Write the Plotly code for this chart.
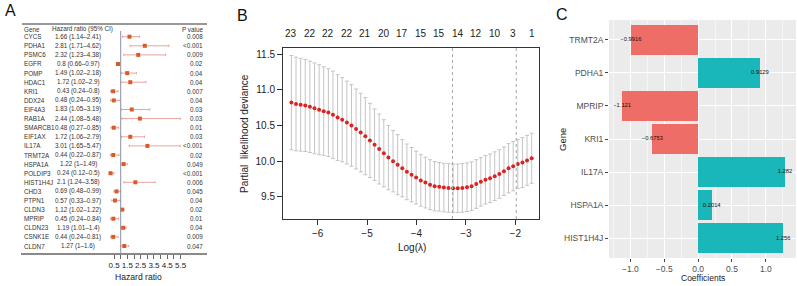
import plotly.graph_objects as go

W, H = 797, 286
FONT = "Liberation Sans, Arial, sans-serif"

# ---------------- Panel A data (forest plot) ----------------
genes_a = ["CYCS", "PDHA1", "PSMC6", "EGFR", "POMP", "HDAC1", "KRI1", "DDX24", "EIF4A3", "RAB1A",
           "SMARCB1", "EIF1AX", "IL17A", "TRMT2A", "HSPA1A", "POLDIP3", "HIST1H4J", "CHD3", "PTPN1",
           "CLDN3", "MPRIP", "CLDN23", "CSNK1E", "CLDN7"]
hr = [1.66, 2.81, 2.32, 0.8, 1.49, 1.72, 0.43, 0.48, 1.83, 2.44, 0.48, 1.72, 3.01, 0.44, 1.22, 0.24,
      2.1, 0.69, 0.57, 1.12, 0.45, 1.19, 0.44, 1.27]
hr_low = [1.14, 1.71, 1.23, 0.66, 1.02, 1.02, 0.24, 0.24, 1.05, 1.08, 0.27, 1.06, 1.65, 0.22, 1.0, 0.12,
          1.24, 0.48, 0.33, 1.02, 0.24, 1.01, 0.24, 1.0]
hr_high = [2.41, 4.62, 4.38, 0.97, 2.18, 2.9, 0.8, 0.95, 3.19, 5.48, 0.85, 2.79, 5.47, 0.87, 1.49, 0.5,
           3.58, 0.99, 0.97, 1.22, 0.84, 1.4, 0.81, 1.6]
hr_text = ["1.66 (1.14–2.41)", "2.81 (1.71–4.62)", "2.32 (1.23–4.38)", "0.8 (0.66–0.97)",
           "1.49 (1.02–2.18)", "1.72 (1.02–2.9)", "0.43 (0.24–0.8)", "0.48 (0.24–0.95)",
           "1.83 (1.05–3.19)", "2.44 (1.08–5.48)", "0.48 (0.27–0.85)", "1.72 (1.06–2.79)",
           "3.01 (1.65–5.47)", "0.44 (0.22–0.87)", "1.22 (1–1.49)", "0.24 (0.12–0.5)",
           "2.1 (1.24–3.58)", "0.69 (0.48–0.99)", "0.57 (0.33–0.97)", "1.12 (1.02–1.22)",
           "0.45 (0.24–0.84)", "1.19 (1.01–1.4)", "0.44 (0.24–0.81)", "1.27 (1–1.6)"]
pvals = ["0.008", "<0.001", "0.009", "0.02", "0.04", "0.04", "0.007", "0.04", "0.03", "0.03", "0.01",
         "0.03", "<0.001", "0.02", "0.049", "<0.001", "0.006", "0.045", "0.04", "0.02", "0.01", "0.04",
         "0.009", "0.047"]
hr_ticks = [0.5, 1, 1.5, 2, 2.5, 3, 3.5, 4, 4.5, 5, 5.5]
hr_ticklabels = ["0.5", "", "1.5", "", "2.5", "", "3.5", "", "4.5", "", "5.5"]

# ---------------- Panel B data (cv.glmnet) ----------------
log_lambda = [-6.530, -6.437, -6.343, -6.250, -6.156, -6.063, -5.969, -5.876, -5.782, -5.689,
              -5.595, -5.502, -5.408, -5.315, -5.221, -5.128, -5.034, -4.941, -4.847, -4.754,
              -4.660, -4.567, -4.473, -4.380, -4.286, -4.193, -4.099, -4.006, -3.912, -3.819,
              -3.725, -3.632, -3.538, -3.445, -3.351, -3.258, -3.164, -3.071, -2.977, -2.884,
              -2.790, -2.697, -2.603, -2.510, -2.416, -2.323, -2.229, -2.136, -2.042, -1.949,
              -1.855, -1.762, -1.668]
deviance = [10.82, 10.80, 10.79, 10.78, 10.76, 10.74, 10.72, 10.70, 10.68, 10.65,
            10.61, 10.58, 10.54, 10.50, 10.45, 10.40, 10.35, 10.29, 10.23, 10.17,
            10.11, 10.05, 10.00, 9.95, 9.90, 9.85, 9.81, 9.77, 9.73, 9.70,
            9.67, 9.65, 9.64, 9.63, 9.625, 9.62, 9.62, 9.625, 9.635, 9.65,
            9.68, 9.71, 9.74, 9.76, 9.79, 9.82, 9.86, 9.90, 9.93, 9.96,
            9.98, 10.01, 10.04]
dev_sd = [0.66, 0.655, 0.65, 0.645, 0.64, 0.635, 0.63, 0.62, 0.615, 0.61,
          0.60, 0.59, 0.58, 0.57, 0.56, 0.55, 0.54, 0.52, 0.50, 0.49,
          0.47, 0.45, 0.43, 0.42, 0.40, 0.39, 0.38, 0.37, 0.36, 0.355,
          0.35, 0.345, 0.34, 0.34, 0.34, 0.34, 0.34, 0.34, 0.34, 0.34,
          0.34, 0.34, 0.34, 0.34, 0.34, 0.34, 0.34, 0.345, 0.345, 0.345,
          0.35, 0.35, 0.35]
nzero_pos = [-6.530, -6.156, -5.782, -5.408, -5.034, -4.660, -4.286, -3.912, -3.538, -3.164,
             -2.790, -2.416, -2.042, -1.668]
nzero_labels = ["23", "22", "22", "22", "21", "20", "17", "15", "15", "14", "12", "10", "3", "1"]
lambda_min = -3.27
lambda_1se = -1.98
b_xticks = [-6, -5, -4, -3, -2]
b_xticklabels = ["−6", "−5", "−4", "−3", "−2"]
b_yticks = [9.5, 10.0, 10.5, 11.0, 11.5]

# ---------------- Panel C data (coefficients) ----------------
genes_c = ["TRMT2A", "PDHA1", "MPRIP", "KRI1", "IL17A", "HSPA1A", "HIST1H4J"]
coefs = [-0.9916, 0.9129, -1.121, -0.6753, 1.282, 0.2014, 1.256]
coef_labels = ["−0.9916", "0.9129", "−1.121", "−0.6753", "1.282", "0.2014", "1.256"]
c_xticks = [-1.0, -0.5, 0.0, 0.5, 1.0]
c_xticklabels = ["−1.0", "−0.5", "0.0", "0.5", "1.0"]


def px(xp):
    return xp / W


def py(yp):
    return 1 - yp / H


fig = go.Figure()

# ---- Panel A geometry ----
a_left, a_right = 21, 207
a_top, a_bottom = 20, 253
one_px, scale_a = 120.7, 13.3
row0, row_h = 36.7, 9.1
xa_range = [1 - (one_px - a_left) / scale_a, 1 + (a_right - one_px) / scale_a]
ya_range = [(a_bottom - row0) / row_h, (a_top - row0) / row_h]
rows = list(range(len(genes_a)))

fig.add_trace(go.Scatter(
    x=hr, y=rows, mode="markers", xaxis="x", yaxis="y",
    marker=dict(symbol="square", size=4, color="#DA5A2C"),
    error_x=dict(type="data", symmetric=False,
                 array=[h - v for h, v in zip(hr_high, hr)],
                 arrayminus=[v - l for v, l in zip(hr, hr_low)],
                 color="#E5A59C", thickness=1, width=1.2),
    showlegend=False, hoverinfo="skip"))

ann = []
tf = dict(family=FONT, size=6.3, color="#333333")
for i, g in enumerate(genes_a):
    ann.append(dict(text=g, x=px(22), y=i, xref="paper", yref="y", xanchor="left",
                    yanchor="middle", showarrow=False, font=tf))
    ann.append(dict(text=hr_text[i], x=px(78), y=i, xref="paper", yref="y", xanchor="center",
                    yanchor="middle", showarrow=False, font=tf))
    ann.append(dict(text=pvals[i], x=px(205), y=i, xref="paper", yref="y", xanchor="right",
                    yanchor="middle", showarrow=False, font=tf))
for t, xx, anc in [("Gene", 22, "left"), ("Hazard ratio (95% CI)", 50, "left"), ("P value", 205, "right")]:
    ann.append(dict(text=t, x=px(xx), y=py(29.3), xref="paper", yref="paper", xanchor=anc,
                    yanchor="middle", showarrow=False, font=tf))
ann.append(dict(text="Hazard ratio", x=px(138), y=py(276.5), xref="paper", yref="paper",
                xanchor="center", yanchor="middle", showarrow=False,
                font=dict(family=FONT, size=8.6, color="#222")))

shapes = []
shapes.append(dict(type="line", xref="paper", yref="paper", x0=px(22), x1=px(207), y0=py(24), y1=py(24),
                   line=dict(color="#333333", width=1)))
shapes.append(dict(type="line", xref="x", yref="paper", x0=1, x1=1, y0=py(31), y1=py(a_bottom),
                   line=dict(color="#8C90A8", width=1)))

# ---- Panel B ----
fig.add_trace(go.Scatter(
    x=log_lambda, y=deviance, mode="markers", xaxis="x2", yaxis="y2",
    marker=dict(size=4, color="#DD2222"),
    error_y=dict(type="data", array=dev_sd, color="#C4C4C4", thickness=1, width=2),
    showlegend=False, hoverinfo="skip"))
for v in [lambda_min, lambda_1se]:
    shapes.append(dict(type="line", xref="x2", yref="paper", x0=v, x1=v, y0=py(48), y1=py(219),
                       line=dict(color="#AAAAAA", width=1, dash="dot")))
for xv, lab in zip(nzero_pos, nzero_labels):
    ann.append(dict(text=lab, x=xv, y=py(33), xref="x2", yref="paper", xanchor="center",
                    yanchor="middle", showarrow=False, font=dict(family=FONT, size=10, color="#222")))
ann.append(dict(text="Partial  likelihood deviance", x=px(244), y=py(134), xref="paper", yref="paper",
                textangle=-90, xanchor="center", yanchor="middle", showarrow=False,
                font=dict(family=FONT, size=10, color="#222")))
ann.append(dict(text="Log(λ)", x=px(412), y=py(248), xref="paper", yref="paper", xanchor="center",
                yanchor="middle", showarrow=False, font=dict(family=FONT, size=10, color="#222")))

# ---- Panel C ----
bar_colors = ["#EE6E67" if c < 0 else "#1AB7BA" for c in coefs]
fig.add_trace(go.Bar(x=coefs, y=genes_c, orientation="h", xaxis="x3", yaxis="y3",
                     marker=dict(color=bar_colors, line=dict(width=0)), width=0.9,
                     showlegend=False, hoverinfo="skip"))
fig.add_trace(go.Scatter(x=coefs, y=genes_c, mode="text", text=coef_labels, xaxis="x3", yaxis="y3",
                         textfont=dict(family=FONT, size=5.8, color="#111"), textposition="middle center",
                         showlegend=False, hoverinfo="skip", cliponaxis=False))
shapes.append(dict(type="rect", xref="x3 domain", yref="y3 domain", x0=0, x1=1, y0=0, y1=1,
                   fillcolor="#EBEBEB", line=dict(width=0), layer="below"))
ann.append(dict(text="Gene", x=px(562), y=py(140), xref="paper", yref="paper", textangle=-90,
                xanchor="center", yanchor="middle", showarrow=False,
                font=dict(family=FONT, size=9.5, color="#222")))
ann.append(dict(text="Coefficients", x=px(703), y=py(278), xref="paper", yref="paper",
                xanchor="center", yanchor="middle", showarrow=False,
                font=dict(family=FONT, size=8.5, color="#222")))

# Panel letters
for t, xx, yy in [("A", 10, 10), ("B", 242, 15), ("C", 562, 14)]:
    ann.append(dict(text=t, x=px(xx), y=py(yy), xref="paper", yref="paper", xanchor="center",
                    yanchor="middle", showarrow=False, font=dict(family=FONT, size=16, color="#111")))

fig.update_layout(
    width=W, height=H, margin=dict(l=0, r=0, t=0, b=0, autoexpand=False),
    paper_bgcolor="white", plot_bgcolor="white",
    font=dict(family=FONT, color="#222"),
    showlegend=False, bargap=0,
    xaxis=dict(domain=[px(a_left), px(a_right)], range=xa_range, showgrid=False, zeroline=False,
               showline=True, linecolor="#8A8A8A", linewidth=1.5, ticks="outside", ticklen=4,
               tickcolor="#666", tickvals=hr_ticks, ticktext=hr_ticklabels, tickangle=0,
               tickfont=dict(size=8, color="#222"), anchor="y", automargin=False),
    yaxis=dict(domain=[py(a_bottom), py(a_top)], range=ya_range, visible=False, anchor="x",
               automargin=False),
    xaxis2=dict(domain=[px(283), px(539)], range=[-6.70, -1.52], showgrid=False, zeroline=False,
                showline=True, mirror=True, linecolor="#333", linewidth=1, ticks="outside", ticklen=5,
                tickcolor="#333", tickvals=b_xticks, ticktext=b_xticklabels,
                tickangle=0, tickfont=dict(size=10, color="#222"), anchor="y2", automargin=False),
    yaxis2=dict(domain=[py(219), py(48)], range=[9.19, 11.584], showgrid=False, zeroline=False,
                showline=True, mirror=True, linecolor="#333", linewidth=1, ticks="outside", ticklen=5,
                tickcolor="#333", tickvals=b_yticks, tickformat=".1f",
                tickfont=dict(size=10, color="#222"), anchor="x2", automargin=False),
    xaxis3=dict(domain=[px(609), px(796)], range=[-1.315, 1.445], showgrid=True, gridcolor="white",
                gridwidth=1, zeroline=False, showline=False, ticks="outside", ticklen=3,
                tickcolor="#444", tickvals=c_xticks, ticktext=c_xticklabels, tickangle=0,
                tickfont=dict(size=8.5, color="#4D4D4D"), anchor="y3", automargin=False,
                minor=dict(dtick=0.25, tick0=0.25, showgrid=True, gridcolor="#F6F6F6", gridwidth=0.6,
                           ticks="")),
    yaxis3=dict(domain=[py(258), py(20)], type="category", categoryorder="array",
                categoryarray=genes_c, range=[6.6, -0.6], showgrid=True, gridcolor="white",
                gridwidth=1, zeroline=False, showline=False, ticks="outside", ticklen=3,
                tickcolor="#444", tickfont=dict(size=8.5, color="#4D4D4D"), anchor="x3",
                automargin=False),
    annotations=ann, shapes=shapes,
)

# remove the page's default 8px body margin so the figure sits at the window's top-left corner
fig.write_html("out.html", config={"displayModeBar": False},
               post_script="document.body.style.margin='0px';")
